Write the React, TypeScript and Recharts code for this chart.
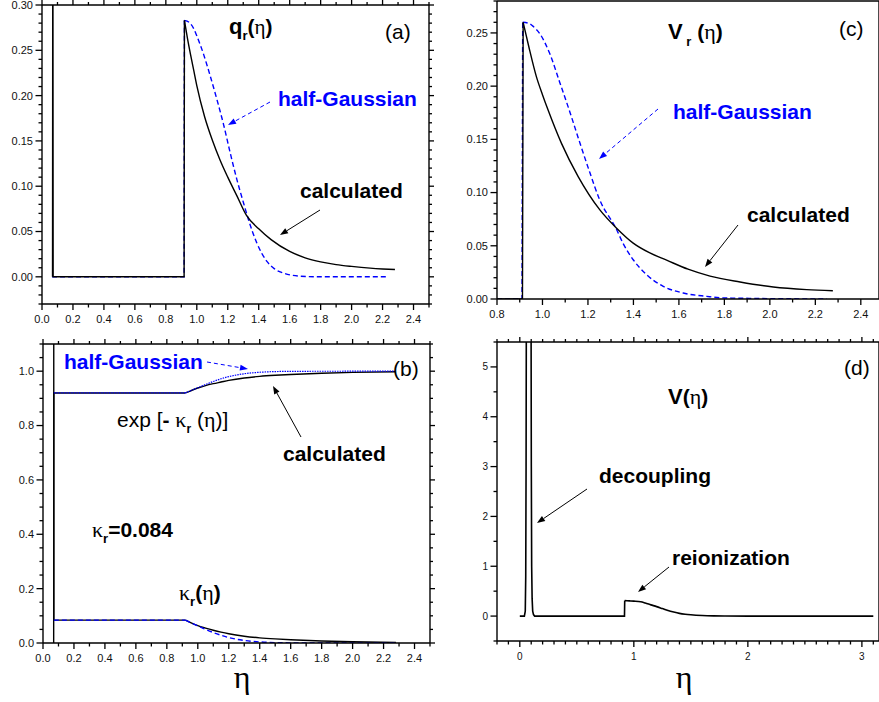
import React from 'react';
import { LineChart, Line, XAxis, YAxis, ReferenceLine } from 'recharts';

const SANS = '"Liberation Sans", Arial, Helvetica, sans-serif';
const SERIF = '"Liberation Serif", "Times New Roman", serif';
const BLUE = '#0000ff';

// (a) q_r(eta)
const etaQCalc = [0.068, 0.07, 0.072, 0.918, 0.92, 0.94, 0.96, 0.98, 1.0, 1.05, 1.1, 1.15, 1.2, 1.26, 1.32, 1.4, 1.48, 1.6, 1.7, 1.8, 1.9, 2.0, 2.12, 2.2, 2.28];
const qCalc = [0, 0.5, 0, 0, 0.283, 0.263, 0.245, 0.228, 0.211, 0.177, 0.151, 0.129, 0.11, 0.089, 0.068, 0.053, 0.041, 0.028, 0.021, 0.0165, 0.0135, 0.0115, 0.0096, 0.0087, 0.008];
const etaQGauss = [0.065, 0.918, 0.92, 0.95, 0.98, 1.0, 1.044, 1.087, 1.13, 1.173, 1.216, 1.259, 1.302, 1.334, 1.388, 1.453, 1.5, 1.561, 1.668, 1.8, 2.23];
const qGauss = [0, 0, 0.283, 0.281, 0.274, 0.266, 0.2455, 0.2215, 0.1957, 0.168, 0.1367, 0.1073, 0.0815, 0.063, 0.0372, 0.017, 0.009, 0.0041, 0.0007, 0, 0];

// (b) exp[-kappa_r] and kappa_r
const etaExpCalc = [0.069, 0.07, 0.92, 0.95, 1.0, 1.05, 1.1, 1.15, 1.2, 1.3, 1.4, 1.5, 1.6, 1.8, 2.0, 2.28];
const expCalc = [0, 0.92, 0.92, 0.927, 0.938, 0.947, 0.954, 0.96, 0.966, 0.975, 0.981, 0.985, 0.988, 0.9925, 0.9955, 0.998];
const etaExpGauss = [0.07, 0.92, 0.95, 1.0, 1.05, 1.1, 1.15, 1.2, 1.3, 1.4, 1.5, 1.6, 2.28];
const expGauss = [0.92, 0.92, 0.927, 0.939, 0.951, 0.962, 0.972, 0.98, 0.9905, 0.996, 0.9985, 0.9995, 1.0];
const etaKapCalc = [0.069, 0.07, 0.92, 0.95, 1.0, 1.05, 1.1, 1.15, 1.2, 1.3, 1.4, 1.5, 1.6, 1.8, 2.0, 2.28];
const kapCalc = [2.0, 0.084, 0.084, 0.076, 0.064, 0.055, 0.047, 0.04, 0.034, 0.025, 0.019, 0.015, 0.012, 0.0075, 0.0045, 0.002];
const etaKapGauss = [0.07, 0.92, 0.95, 1.0, 1.05, 1.1, 1.15, 1.2, 1.3, 1.4, 1.5, 1.6, 1.7, 2.28];
const kapGauss = [0.084, 0.084, 0.0756, 0.0632, 0.05, 0.0385, 0.0285, 0.02, 0.0095, 0.004, 0.0015, 0.0005, 0.0001, 0];

// (c) V_r(eta)
const etaVrCalc = [0.8, 0.912, 0.915, 0.94, 0.9735, 1.0, 1.0247, 1.0836, 1.157, 1.2524, 1.326, 1.399, 1.47, 1.546, 1.64, 1.737, 1.869, 2.015, 2.162, 2.277];
const vrCalc = [0, 0, 0.26, 0.237, 0.2087, 0.192, 0.1775, 0.1462, 0.115, 0.0837, 0.0665, 0.0525, 0.0435, 0.0365, 0.028, 0.0215, 0.016, 0.01125, 0.0088, 0.0078];
const etaVrGauss = [0.8, 0.91, 0.913, 0.94, 0.96, 0.988, 1.032, 1.076, 1.12, 1.164, 1.208, 1.252, 1.323, 1.355, 1.399, 1.458, 1.531, 1.619, 1.722, 1.8, 2.25];
const vrGauss = [0, 0, 0.26, 0.259, 0.256, 0.2494, 0.2306, 0.2035, 0.176, 0.147, 0.119, 0.093, 0.0665, 0.052, 0.0369, 0.0228, 0.0119, 0.0056, 0.0025, 0.001, 0];

// (d) V(eta)
const etaV = [0, 0.04, 0.048, 0.052, 0.055, 0.058, 0.078, 0.098, 0.101, 0.104, 0.108, 0.113, 0.12, 0.13, 0.918, 0.92, 0.96, 1.0, 1.06, 1.1, 1.15, 1.2, 1.25, 1.3, 1.35, 1.4, 1.45, 1.5, 1.6, 1.7, 1.8, 2.0, 3.1];
const vTotal = [0, 0, 0.1, 0.8, 3, 7, 14, 7, 3, 1.0, 0.35, 0.1, 0.03, 0, 0, 0.31, 0.305, 0.3, 0.287, 0.262, 0.225, 0.19, 0.15, 0.11, 0.08, 0.055, 0.038, 0.026, 0.011, 0.004, 0.0015, 0, 0];

// tick labels
const majorEta = [0, 0.2, 0.4, 0.6, 0.8, 1.0, 1.2, 1.4, 1.6, 1.8, 2.0, 2.2, 2.4];
const majorEtaC = [0.8, 1.0, 1.2, 1.4, 1.6, 1.8, 2.0, 2.2, 2.4];
const majorEtaD = [0, 1, 2, 3];
const majorQ = [0, 0.05, 0.1, 0.15, 0.2, 0.25, 0.3];
const majorB = [0, 0.2, 0.4, 0.6, 0.8, 1.0];
const majorVr = [0, 0.05, 0.1, 0.15, 0.2, 0.25];
const majorV = [0, 1, 2, 3, 4, 5];

const rows = (xs: number[], ys: number[]) => xs.map((x, i) => ({ x, y: ys[i] }));
// split a series at its jump: straight part up to the peak, smooth decay after it
const parts = (xs: number[], ys: number[], peak: number) => {
  const k = xs.indexOf(peak);
  return [rows(xs.slice(0, k + 1), ys.slice(0, k + 1)), rows(xs.slice(k), ys.slice(k))];
};
const steps = (a: number, b: number, s: number) => {
  const out: number[] = [];
  for (let v = a; v <= b + 1e-9; v += s) out.push(Math.round(v * 1000) / 1000);
  return out;
};
const isMajor = (v: number, m: number[]) => m.some((t) => Math.abs(t - v) < 1e-6);
const AXIS = { stroke: '#000', strokeWidth: 1.4 };

// plot boxes [left, top, width, height] and axis setup for the four panels
const PA = { box: [42, 5, 387, 299], xDomain: [0, 2.5], xTicks: steps(0, 2.5, 0.1), xMajor: majorEta, xDigits: 1,
  yDomain: [-0.03, 0.3], yTicks: steps(-0.03, 0.3, 0.01), yMajor: majorQ, yDigits: 2 };
const PB = { box: [43, 344, 387, 299], xDomain: [0, 2.5], xTicks: steps(0, 2.5, 0.1), xMajor: majorEta, xDigits: 1,
  yDomain: [0, 1.1], yTicks: steps(0, 1.1, 0.05), yMajor: majorB, yDigits: 1 };
const PC = { box: [497, 1, 382, 298], xDomain: [0.8, 2.48], xTicks: steps(0.8, 2.4, 0.1), xMajor: majorEtaC, xDigits: 1,
  yDomain: [0, 0.28], yTicks: steps(0, 0.28, 0.01), yMajor: majorVr, yDigits: 2, frameTicks: false };
const PD = { box: [497, 342, 382, 299], xDomain: [-0.2, 3.15], xTicks: steps(-0.2, 3.1, 0.1), xMajor: majorEtaD, xDigits: 0,
  yDomain: [-0.5, 5.5], yTicks: steps(-0.5, 5.5, 0.5), yMajor: majorV, yDigits: 0, fs: 10 };

function Panel(props: any) {
  const { box, xDomain, xTicks, xMajor, xDigits, yDomain, yTicks, yMajor, yDigits, fs = 11, frameTicks = true, children } = props;
  const [x0, y0, w, h] = box;
  const label = { fontSize: fs, fontFamily: SANS, fill: '#111' };
  // one pixel in data units, for the small outward ticks on the top and right frame
  const px = (xDomain[1] - xDomain[0]) / w;
  const py = (yDomain[1] - yDomain[0]) / h;
  const seg = (key: string, a: any, b: any) => (
    <ReferenceLine key={key} ifOverflow="visible" stroke="#000" strokeWidth={1.3} segment={[a, b]} />
  );
  return (
    <div style={{ position: 'absolute', left: x0 - 45, top: y0 - 5 }}>
      <LineChart width={w + 50} height={h + 35} margin={{ top: 5, right: 5, bottom: 0, left: 0 }}>
        <XAxis dataKey="x" type="number" domain={xDomain} allowDataOverflow ticks={xMajor} interval={0}
          height={30} tickSize={4.5} tickMargin={fs === 11 ? 6.2 : 6.9} axisLine={AXIS} tickLine={false} tick={label}
          tickFormatter={(v: number) => v.toFixed(xDigits)} />
        <YAxis type="number" domain={yDomain} allowDataOverflow ticks={yMajor} interval={0} width={45}
          tickSize={4.5} tickMargin={4.5} axisLine={AXIS} tickLine={false} tick={label}
          tickFormatter={(v: number) => v.toFixed(yDigits)} />
        <ReferenceLine y={yDomain[1]} stroke="#000" strokeWidth={1.4} />
        <ReferenceLine x={xDomain[1]} stroke="#000" strokeWidth={1.4} />
        {frameTicks && xTicks.map((v: number) =>
          seg('t' + v, { x: v, y: yDomain[1] }, { x: v, y: yDomain[1] + (isMajor(v, xMajor) ? 5 : 3) * py }))}
        {frameTicks && yTicks.map((v: number) =>
          seg('r' + v, { x: xDomain[1], y: v }, { x: xDomain[1] + (isMajor(v, yMajor) ? 5 : 3) * px, y: v }))}
        {children}
      </LineChart>
    </div>
  );
}

// outward tick marks on the left and bottom axes, placed with the same linear mapping as the panel's axes
function AxisTicks({ box, xDomain, xTicks, xMajor, yDomain, yTicks, yMajor }: any) {
  const [x0, y0, w, h] = box;
  const sx = (v: number) => x0 + ((v - xDomain[0]) / (xDomain[1] - xDomain[0])) * w;
  const sy = (v: number) => y0 + h - ((v - yDomain[0]) / (yDomain[1] - yDomain[0])) * h;
  return (
    <g stroke="#000" strokeWidth={1.3}>
      {xTicks.map((v: number) => (
        <line key={'x' + v} x1={sx(v)} x2={sx(v)} y1={y0 + h} y2={y0 + h + (isMajor(v, xMajor) ? 6 : 3.5)} />
      ))}
      {yTicks.map((v: number) => (
        <line key={'y' + v} x1={x0} x2={x0 - (isMajor(v, yMajor) ? 6.5 : 3.5)} y1={sy(v)} y2={sy(v)} />
      ))}
    </g>
  );
}

const solid = { dataKey: 'y', dot: false, stroke: '#000', strokeWidth: 1.4, isAnimationActive: false };
const dashed = { dataKey: 'y', dot: false, stroke: BLUE, strokeWidth: 1.4, strokeDasharray: '5 3', isAnimationActive: false };

function Arrow({ x1, y1, x2, y2, color = '#000', dash }: any) {
  const a = Math.atan2(y2 - y1, x2 - x1);
  const L = 8, W = 3;
  const bx = x2 - L * Math.cos(a), by = y2 - L * Math.sin(a);
  const pts = `${x2},${y2} ${bx + W * Math.sin(a)},${by - W * Math.cos(a)} ${bx - W * Math.sin(a)},${by + W * Math.cos(a)}`;
  return (
    <g>
      <line x1={x1} y1={y1} x2={bx} y2={by} stroke={color} strokeWidth={1} strokeDasharray={dash} />
      <polygon points={pts} fill={color} />
    </g>
  );
}

export default function App() {
  const [qGJ, qGD] = parts(etaQGauss, qGauss, 0.92);
  const [qCJ, qCD] = parts(etaQCalc, qCalc, 0.92);
  const [eCJ, eCD] = parts(etaExpCalc, expCalc, 0.92);
  const [kCJ, kCD] = parts(etaKapCalc, kapCalc, 0.92);
  const [eGJ, eGD] = parts(etaExpGauss, expGauss, 0.92);
  const [kGJ, kGD] = parts(etaKapGauss, kapGauss, 0.92);
  const [vGJ, vGD] = parts(etaVrGauss, vrGauss, 0.913);
  const [vCJ, vCD] = parts(etaVrCalc, vrCalc, 0.915);
  const [vJ, vD] = parts(etaV, vTotal, 0.92);
  const dotted = { ...dashed, strokeWidth: 1.2, strokeDasharray: '1.5 1' };
  return (
    <div style={{ position: 'absolute', left: 0, top: 0, width: 879, height: 702, overflow: 'hidden', background: '#fff' }}>
      <Panel {...PA}>
        <Line type="linear" {...dashed} data={qGJ} />
        <Line type="monotone" {...dashed} data={qGD} />
        <Line type="linear" {...solid} data={qCJ} />
        <Line type="monotone" {...solid} data={qCD} />
      </Panel>
      <Panel {...PB}>
        <Line type="linear" {...solid} data={eCJ} />
        <Line type="monotone" {...solid} data={eCD} />
        <Line type="linear" {...solid} data={kCJ} />
        <Line type="monotone" {...solid} data={kCD} />
        <Line type="linear" {...dotted} data={eGJ} />
        <Line type="monotone" {...dotted} data={eGD} />
        <Line type="linear" {...dashed} data={kGJ} />
        <Line type="monotone" {...dashed} data={kGD} />
      </Panel>
      <Panel {...PC}>
        <Line type="linear" {...dashed} data={vGJ} />
        <Line type="monotone" {...dashed} data={vGD} />
        <Line type="linear" {...solid} data={vCJ} />
        <Line type="monotone" {...solid} data={vCD} />
      </Panel>
      <Panel {...PD}>
        <Line type="linear" {...solid} strokeWidth={1.6} data={vJ} />
        <Line type="monotone" {...solid} strokeWidth={1.6} data={vD} />
      </Panel>

      <svg width={879} height={702} style={{ position: 'absolute', left: 0, top: 0, pointerEvents: 'none' }} fontFamily={SANS}>
        <AxisTicks {...PA} />
        <AxisTicks {...PB} />
        <AxisTicks {...PC} />
        <AxisTicks {...PD} />

        {/* (a) */}
        <text x={229} y={34} fontSize={22} fontWeight="bold">q<tspan fontSize={13} dy={6}>r</tspan><tspan dy={-6} fontSize={21}>(</tspan><tspan fontFamily={SERIF} fontWeight="normal" fontSize={21}>η</tspan><tspan fontSize={21}>)</tspan></text>
        <text x={385} y={39} fontSize={21}>(a)</text>
        <text x={278} y={106} fontSize={21} fontWeight="bold" fill={BLUE}>half-Gaussian</text>
        <text x={300} y={198} fontSize={21} fontWeight="bold">calculated</text>
        <Arrow x1={270} y1={102} x2={228} y2={125} color={BLUE} dash="4 3" />
        <Arrow x1={320} y1={210} x2={280} y2={235} />

        {/* (b) */}
        <text x={64} y={369} fontSize={21} fontWeight="bold" fill={BLUE}>half-Gaussian</text>
        <text x={393} y={376} fontSize={21}>(b)</text>
        <text x={117} y={427} fontSize={21}>exp [<tspan fontWeight="bold">- </tspan><tspan fontFamily={SERIF} fontSize={22}>κ</tspan><tspan fontSize={12} fontWeight="bold" dy={6}>r</tspan><tspan dy={-6}> (</tspan><tspan fontFamily={SERIF} fontSize={22}>η</tspan>)]</text>
        <text x={283} y={461} fontSize={21} fontWeight="bold">calculated</text>
        <text x={92} y={537} fontSize={21} fontWeight="bold"><tspan fontFamily={SERIF} fontWeight="normal" fontSize={22}>κ</tspan><tspan fontSize={13} dy={6}>r</tspan><tspan dy={-6}>=0.084</tspan></text>
        <text x={179} y={600} fontSize={21}><tspan fontFamily={SERIF} fontSize={22}>κ</tspan><tspan fontSize={13} fontWeight="bold" dy={6}>r</tspan><tspan dy={-6} fontWeight="bold">(</tspan><tspan fontFamily={SERIF} fontSize={22}>η</tspan><tspan fontWeight="bold">)</tspan></text>
        <Arrow x1={207} y1={362} x2={248} y2={369} color={BLUE} dash="4 3" />
        <Arrow x1={301} y1={437} x2={273} y2={386} />
        <text x={242} y={688} fontSize={32} fontFamily={SERIF} textAnchor="middle">η</text>

        {/* (c) */}
        <text x={668} y={39} fontSize={22} fontWeight="bold">V<tspan fontSize={13} dy={7}> r</tspan><tspan dy={-7} fontSize={21}> (</tspan><tspan fontFamily={SERIF} fontWeight="normal" fontSize={22}>η</tspan><tspan fontSize={21}>)</tspan></text>
        <text x={839} y={36} fontSize={21}>(c)</text>
        <text x={673} y={119} fontSize={21} fontWeight="bold" fill={BLUE}>half-Gaussian</text>
        <text x={747} y={222} fontSize={21} fontWeight="bold">calculated</text>
        <Arrow x1={658} y1={109} x2={599} y2={159} color={BLUE} dash="4 3" />
        <Arrow x1={738} y1={225} x2={705} y2={267} />

        {/* (d) */}
        <text x={668} y={404} fontSize={22} fontWeight="bold">V<tspan fontSize={21}>(</tspan><tspan fontFamily={SERIF} fontWeight="normal" fontSize={22}>η</tspan><tspan fontSize={21}>)</tspan></text>
        <text x={844} y={375} fontSize={21}>(d)</text>
        <text x={599} y={483} fontSize={21} fontWeight="bold">decoupling</text>
        <text x={672} y={565} fontSize={21} fontWeight="bold">reionization</text>
        <Arrow x1={587} y1={489} x2={537} y2={523} />
        <Arrow x1={669} y1={567} x2={638} y2={592} />
        <text x={684} y={688} fontSize={32} fontFamily={SERIF} textAnchor="middle">η</text>
      </svg>
    </div>
  );
}
